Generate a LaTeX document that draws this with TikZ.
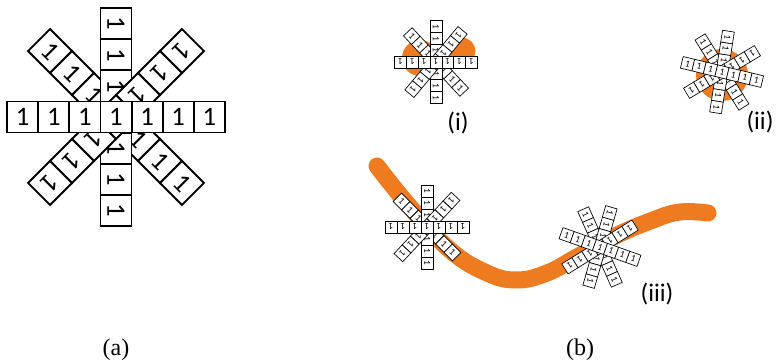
\documentclass[tikz,border=0pt]{standalone}
\usepackage{fontspec}
\setmainfont{Liberation Serif}
\newfontfamily\cellfont{Carlito}

\definecolor{strand}{RGB}{239,123,33}

\tikzset{
  bigcell/.style={draw, line width=1.4pt, fill=white, minimum size=23.3pt, inner sep=0pt, font=\cellfont\fontsize{20}{20}\selectfont},
  smallcell/.style={draw, line width=0.5pt, fill=white, minimum size=8.9pt, inner sep=0pt, font=\cellfont\fontsize{7}{7}\selectfont},
  caption/.style={font=\fontsize{18}{18}\selectfont},
  tag/.style={font=\cellfont\fontsize{19}{19}\selectfont}
}

% one arm of seven cells: name, centre, arm angle, text angle, style, pitch
\newcommand{\cellarm}[6]{%
  \begin{scope}[shift={#2}, rotate=#3, transform shape]
    \foreach \k in {1,...,7}
      \node[#5, rotate=#4] (#1-\k) at ({(\k-4)*#6}, 0) {1};
  \end{scope}}

\begin{document}
\begin{tikzpicture}[x=0.75pt, y=-0.75pt]
  \useasboundingbox (0,0) rectangle (779,364);
  %\draw[lightgray] (0,0) grid[step=50] (779,364);

  % (a)
  \cellarm{big-d1}{(116,117)}{-45}{0}{bigcell}{31.1}
  \cellarm{big-v}{(116,117)}{-90}{0}{bigcell}{31.1}
  \cellarm{big-d2}{(116,117)}{-135}{0}{bigcell}{31.1}
  \cellarm{big-h}{(116,117)}{0}{0}{bigcell}{31.1}

  % (b) blobs and strand
  \fill[strand] (420,58) circle (13.5pt);
  \fill[strand] (462,51) circle (10pt);
  \fill[strand] (722,75) circle (19.5pt);
  \draw[strand, line width=12.75pt, line cap=round] plot[smooth, tension=0.7] coordinates
    {(377,166) (410,207) (450,250) (487,273) (517,280) (547,273) (577,257) (613,237) (653,220) (680,212) (708,213)};

  % (i)
  \cellarm{s1-d1}{(436,62)}{-47}{0}{smallcell}{11.8}
  \cellarm{s1-v}{(436,62)}{-90}{0}{smallcell}{11.8}
  \cellarm{s1-d2}{(436,62)}{-130}{0}{smallcell}{11.8}
  \cellarm{s1-h}{(436,62)}{0}{180}{smallcell}{11.8}

  % (ii)
  \cellarm{s2-a}{(722,72)}{-58}{0}{smallcell}{11.8}
  \cellarm{s2-b}{(722,72)}{81}{180}{smallcell}{11.8}
  \cellarm{s2-c}{(722,72)}{31}{180}{smallcell}{11.8}
  \cellarm{s2-d}{(722,72)}{-13.5}{0}{smallcell}{11.8}

  % (iii)
  \cellarm{s3-d1}{(427,227)}{-45}{0}{smallcell}{12}
  \cellarm{s3-v}{(427,227)}{-90}{0}{smallcell}{12}
  \cellarm{s3-d2}{(427,227)}{-133}{0}{smallcell}{12}
  \cellarm{s3-h}{(427,227)}{0}{180}{smallcell}{12}

  \cellarm{s4-a}{(600,247)}{-66}{0}{smallcell}{11.8}
  \cellarm{s4-b}{(600,247)}{74}{180}{smallcell}{11.8}
  \cellarm{s4-c}{(600,247)}{32}{180}{smallcell}{11.8}
  \cellarm{s4-d}{(600,247)}{-19.5}{0}{smallcell}{11.8}

  \node[tag] (tag-i) at (458,123) {(i)};
  \node[tag] (tag-ii) at (760,122) {(ii)};
  \node[tag] (tag-iii) at (657,294) {(iii)};

  \node[caption] (cap-a) at (116,350) {(a)};
  \node[caption] (cap-b) at (580,350) {(b)};
\end{tikzpicture}
\end{document}
